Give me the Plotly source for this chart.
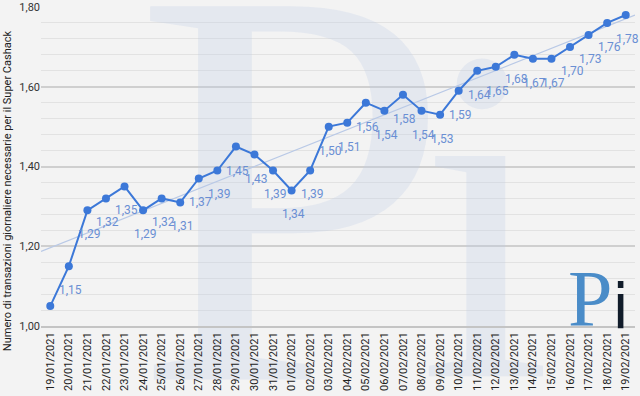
import numpy as np
import plotly.graph_objects as go

dates = ["19/01/2021","20/01/2021","21/01/2021","22/01/2021","23/01/2021","24/01/2021",
         "25/01/2021","26/01/2021","27/01/2021","28/01/2021","29/01/2021","30/01/2021",
         "31/01/2021","01/02/2021","02/02/2021","03/02/2021","04/02/2021","05/02/2021",
         "06/02/2021","07/02/2021","08/02/2021","09/02/2021","10/02/2021","11/02/2021",
         "12/02/2021","13/02/2021","14/02/2021","15/02/2021","16/02/2021","17/02/2021",
         "18/02/2021","19/02/2021"]
values = [1.05,1.15,1.29,1.32,1.35,1.29,1.32,1.31,1.37,1.39,1.45,1.43,1.39,1.34,1.39,
          1.50,1.51,1.56,1.54,1.58,1.54,1.53,1.59,1.64,1.65,1.68,1.67,1.67,1.70,1.73,
          1.76,1.78]
y_ticks = [1.00, 1.20, 1.40, 1.60, 1.80]
y_title = "Numero di transazioni giornaliere necessarie per il Super Cashack"

idx = np.arange(len(values))
slope, intercept = np.polyfit(idx, values, 1)
tx = np.array([-0.5, len(values) - 0.5])
ty = slope * tx + intercept

BLUE = "#3c78d8"
LABEL = "#6a8fd4"
BG = "#f3f3f3"
WM = "rgba(190,205,230,0.28)"

fig = go.Figure()
# faint watermark behind the data (decoration)
fig.add_trace(go.Scatter(x=[4.5], y=[1.223], mode="text", text=["P"],
                         textposition="middle right", cliponaxis=False,
                         textfont=dict(family="Liberation Serif", size=570, color=WM),
                         hoverinfo="skip"))
fig.add_trace(go.Scatter(x=[19.85], y=[1.175], mode="text", text=["i"],
                         textposition="middle right", cliponaxis=False,
                         textfont=dict(family="Liberation Serif", size=480, color=WM),
                         hoverinfo="skip"))
fig.add_trace(go.Scatter(x=tx, y=ty, mode="lines",
                         line=dict(color="#b9c9e6", width=1.2), hoverinfo="skip"))
fig.add_trace(go.Scatter(x=idx, y=values, mode="lines+markers",
                         line=dict(color=BLUE, width=2),
                         marker=dict(color=BLUE, size=8)))
for i, v in enumerate(values):
    if i == 0:
        continue
    fig.add_annotation(x=i, y=v, text=f"{v:.2f}".replace(".", ","), showarrow=False,
                       yshift=-24, xshift=2,
                       font=dict(family="Roboto", size=12, color=LABEL))

# y-axis title as rotated annotation
fig.add_annotation(xref="paper", yref="paper", x=-0.056, y=0.425, xanchor="center",
                   yanchor="middle", text=y_title, textangle=-90, showarrow=False,
                   font=dict(family="Roboto", size=11, color="#222"))

# logo
fig.add_annotation(xref="paper", yref="paper", x=0.884, y=-0.06, xanchor="left",
                   yanchor="bottom", text="P", showarrow=False,
                   font=dict(family="Liberation Serif", size=80, color="#4a8cc8"))
fig.add_annotation(xref="paper", yref="paper", x=0.958, y=-0.06, xanchor="left",
                   yanchor="bottom", text="i", showarrow=False,
                   font=dict(family="DejaVu Sans", size=62, color="#111c2a"))

fig.update_layout(
    width=640, height=396,
    margin=dict(l=41, r=5, t=7, b=62),
    paper_bgcolor=BG, plot_bgcolor=BG,
    separators=",.",
    showlegend=False,
    hovermode=False,
    font=dict(family="Roboto", color="#222"),
)
fig.update_xaxes(range=[-0.5, len(values) - 0.5], tickvals=idx, ticktext=dates,
                 tickangle=-90, tickfont=dict(size=11, color="#222"),
                 showgrid=False, zeroline=False, showline=True, linecolor="#c4c4c4",
                 linewidth=2, ticks="", fixedrange=True)
fig.update_yaxes(range=[1.0, 1.8], tickvals=y_ticks, tickformat=".2f",
                 tickfont=dict(size=11, color="#333"),
                 gridcolor="#cfcfcf", gridwidth=1.5, zeroline=False,
                 minor=dict(dtick=0.04, tick0=1.0, showgrid=True, gridcolor="#e2e2e2", gridwidth=1),
                 automargin=False, ticks="")

fig.write_html("out.html", config={"displayModeBar": False},
               post_script="document.body.style.margin='0';document.body.style.overflow='hidden';")
